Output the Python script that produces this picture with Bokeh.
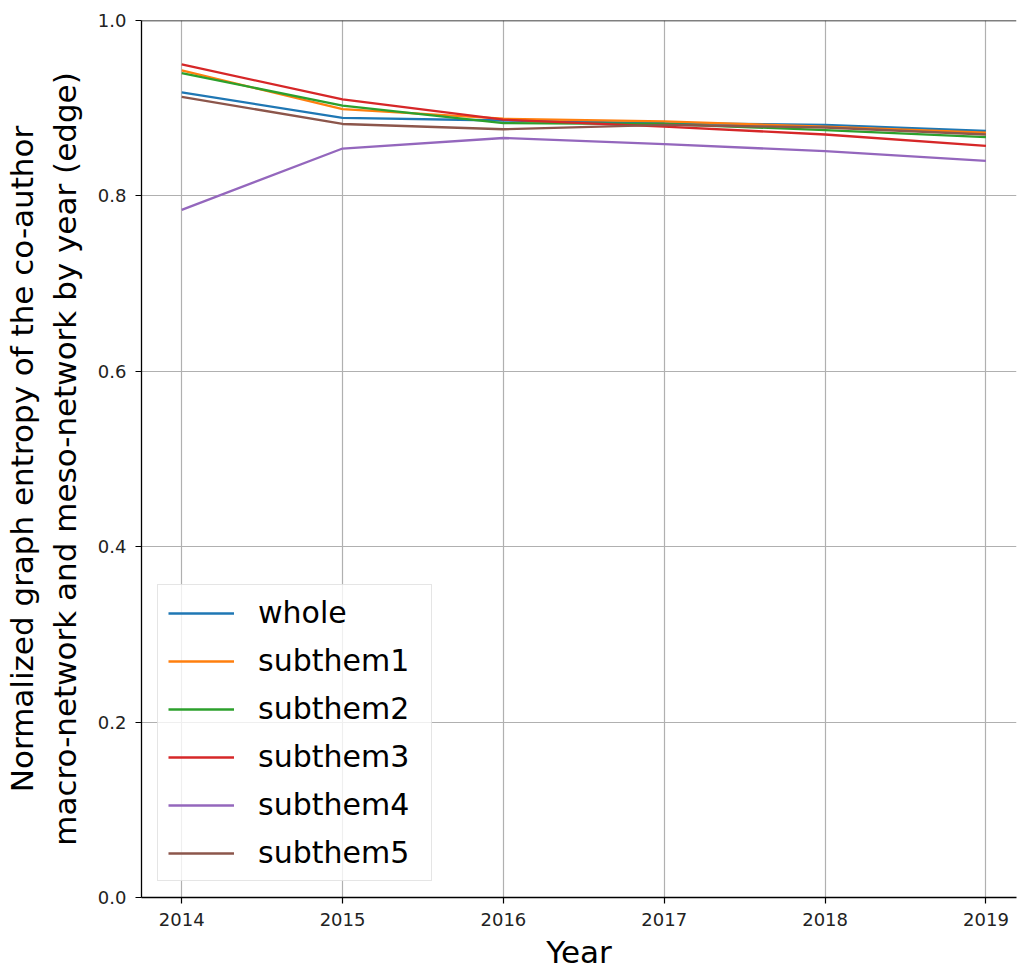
from bokeh.plotting import figure
from bokeh.models import Range1d, FixedTicker, NumeralTickFormatter, Legend, LegendItem, Span
from bokeh.embed import file_html
from bokeh.resources import INLINE

# Normalized edge entropy per year for the whole network and each sub-theme
years = [2014, 2015, 2016, 2017, 2018, 2019]
whole = [0.918, 0.889, 0.886, 0.883, 0.881, 0.874]
subthem1 = [0.943, 0.899, 0.888, 0.885, 0.879, 0.872]
subthem2 = [0.940, 0.903, 0.883, 0.882, 0.875, 0.867]
subthem3 = [0.950, 0.910, 0.887, 0.879, 0.870, 0.857]
subthem4 = [0.784, 0.854, 0.866, 0.859, 0.851, 0.840]
subthem5 = [0.913, 0.882, 0.876, 0.881, 0.878, 0.870]

series_names = ["whole", "subthem1", "subthem2", "subthem3", "subthem4", "subthem5"]
series_values = [whole, subthem1, subthem2, subthem3, subthem4, subthem5]
colors = ["#1f77b4", "#ff7f0e", "#2ca02c", "#d62728", "#9467bd", "#8c564b"]

y_ticks = [0.0, 0.2, 0.4, 0.6, 0.8, 1.0]

FONT = "DejaVu Sans"

p = figure(
    width=1017, height=972,
    output_backend="svg", toolbar_location=None,
    x_range=Range1d(2013.75, 2019.19), y_range=Range1d(0.0, 1.0),
    min_border_left=141, min_border_right=1, min_border_top=20, min_border_bottom=70,
)
p.outline_line_color = None
p.background_fill_color = "white"
p.border_fill_color = "white"

# grid
for g in (p.xgrid, p.ygrid):
    g.grid_line_color = "#b0b0b0"
    g.grid_line_width = 1.2

# axes
p.xaxis.ticker = FixedTicker(ticks=years)
p.yaxis.ticker = FixedTicker(ticks=y_ticks)
p.yaxis.formatter = NumeralTickFormatter(format="0.0")
for ax in (p.xaxis, p.yaxis):
    ax.axis_line_color = "black"
    ax.axis_line_width = 1.3
    ax.major_tick_line_color = "black"
    ax.major_tick_line_width = 1.2
    ax.major_tick_out = 6
    ax.major_tick_in = 0
    ax.minor_tick_line_color = None
    ax.major_label_text_font = FONT
    ax.major_label_text_font_size = "18px"
    ax.major_label_text_color = "#222222"
    ax.major_label_standoff = 9
    ax.axis_label_text_font = FONT
    ax.axis_label_text_font_size = "31px"
    ax.axis_label_text_font_style = "normal"
    ax.axis_label_text_color = "black"

p.xaxis.axis_label = "Year"
p.xaxis.axis_label_standoff = 5
p.yaxis.axis_label = ("Normalized graph entropy of the co-author\n"
                      "macro-network and meso-network by year (edge)")
p.yaxis.axis_label_standoff = 12

# top spine
p.add_layout(Span(location=1.0, dimension="width", line_color="black", line_width=1.5))

items = []
for name, vals, c in zip(series_names, series_values, colors):
    r = p.line(years, vals, line_color=c, line_width=2.3)
    items.append(LegendItem(label=name, renderers=[r]))

legend = Legend(
    items=items, location=(16, 16), margin=0,
    label_text_font=FONT, label_text_font_size="30px", label_text_color="black",
    glyph_width=66, glyph_height=34, label_height=34, label_width=163,
    label_standoff=24, spacing=13, padding=10,
    border_line_color="#cccccc", border_line_width=1.2,
    background_fill_color="white", background_fill_alpha=0.8,
)
p.add_layout(legend, "center")

open("out.html", "w").write(file_html(p, INLINE))
